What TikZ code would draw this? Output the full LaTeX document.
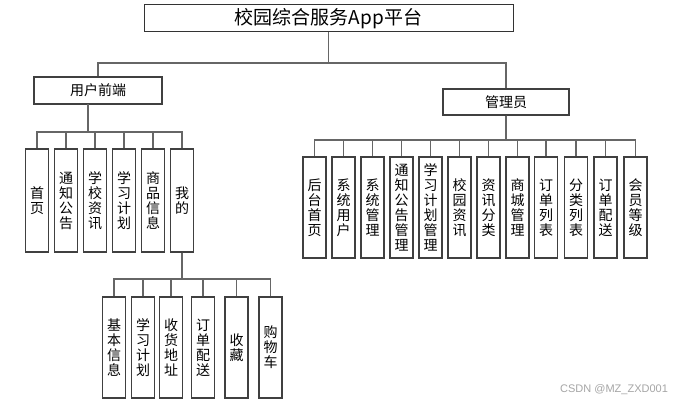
\documentclass[tikz,border=0pt]{standalone}
\usepackage{fontspec}
\setmainfont{Liberation Serif}
\newfontfamily\cjk{Noto Sans CJK SC}
\newfontfamily\wmfont{Liberation Sans}
\begin{document}
\begin{tikzpicture}[x=1pt,y=-1pt,
  rootbox/.style={draw=black!80, line width=1pt, minimum width=369pt, minimum height=27pt, inner sep=0pt, font=\cjk\fontsize{19}{21}\selectfont},
  midbox/.style={draw=black!75, line width=1.3pt, minimum height=27pt, inner sep=0pt, font=\cjk\fontsize{14}{16}\selectfont},
  leafbox/.style={draw=black!75, line width=1.3pt, minimum width=23pt, inner sep=0pt, align=center, font=\cjk\fontsize{14}{15}\selectfont},
  conn/.style={draw=black!60, line width=1.3pt},
  wmark/.style={font=\wmfont\fontsize{11}{12}\selectfont, text=black!35, inner sep=0pt}]
\useasboundingbox (0,0) rectangle (683,404);
\fill[white] (0,0) rectangle (683,404);

% root and second level
\node[rootbox] (root) at (328.5,18.5) {校园综合服务App平台};
\node[midbox, minimum width=128pt] (user) at (98,90.5) {用户前端};
\node[midbox, minimum width=126pt, minimum height=26pt] (admin) at (506,102) {管理员};

% bar coordinates
\coordinate (barT) at (0,63);
\coordinate (barU) at (0,132);
\coordinate (barA) at (0,140);
\coordinate (barW) at (0,279);
\coordinate (uout) at (88,104);

% user front children
\foreach \n/\x/\t in {u1/37/首\\页, u2/66/通\\知\\公\\告, u3/95/学\\校\\资\\讯, u4/124/学\\习\\计\\划, u5/153/商\\品\\信\\息, u6/182/我\\的}
  \node[leafbox, minimum height=103pt] (\n) at (\x,200.5) {\t};

% admin children
\foreach \n/\x/\t in {a1/314.5/后\\台\\首\\页, a2/343.5/系\\统\\用\\户, a3/372.5/系\\统\\管\\理, a4/401.5/通\\知\\公\\告\\管\\理, a5/430.5/学\\习\\计\\划\\管\\理, a6/459.5/校\\园\\资\\讯, a7/488.5/资\\讯\\分\\类, a8/517.5/商\\城\\管\\理, a9/546/订\\单\\列\\表, a10/576/分\\类\\列\\表, a11/605.5/订\\单\\配\\送, a12/635.5/会\\员\\等\\级}
  \node[leafbox, minimum height=101pt] (\n) at (\x,207.5) {\t};

% "我的" children
\foreach \n/\x/\t in {w1/114/基\\本\\信\\息, w2/143/学\\习\\计\\划, w3/171/收\\货\\地\\址, w4/203/订\\单\\配\\送, w5/236.5/收\\藏, w6/270.5/购\\物\\车}
  \node[leafbox, minimum height=101pt] (\n) at (\x,347.5) {\t};

% connectors
\draw[conn] (root.south) -- (root.south |- barT) -| (user.north);
\draw[conn] (root.south |- barT) -| (admin.north);

\foreach \c in {u1,u2,u3,u4,u5,u6}
  \draw[conn] (uout) -- (uout |- barU) -| (\c.north);

\foreach \c in {a1,a2,a3,a4,a5,a6,a7,a8,a9,a10,a11,a12}
  \draw[conn] (admin.south) -- (admin.south |- barA) -| (\c.north);

\foreach \c in {w1,w2,w3,w4,w5,w6}
  \draw[conn] (u6.south) -- (u6.south |- barW) -| (\c.north);

\node[wmark, anchor=west] (wm) at (560,390) {CSDN @MZ\_ZXD001};
\end{tikzpicture}
\end{document}
